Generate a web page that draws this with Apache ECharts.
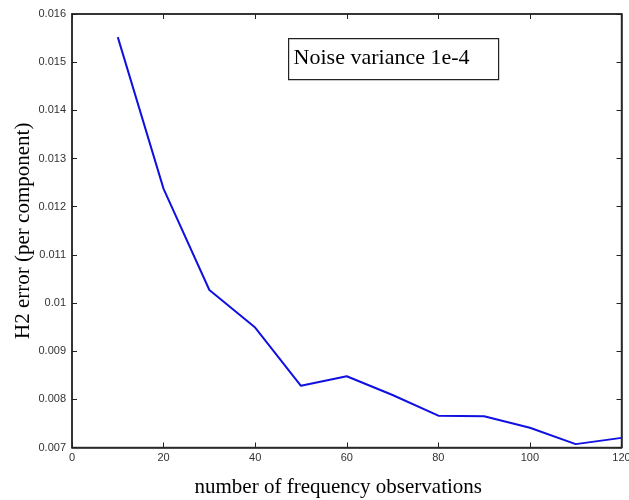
<!DOCTYPE html>
<html><head><meta charset="utf-8">
<script src="https://cdn.jsdelivr.net/npm/echarts@6/dist/echarts.min.js"></script>
<style>html,body{margin:0;padding:0;background:#fff}#c{width:629px;height:500px}</style>
</head><body><div id="c"></div>
<script>
const xValues = [10, 20, 30, 40, 50, 60, 70, 80, 90, 100, 110, 120];
const h2Error = [0.01552, 0.01237, 0.01027, 0.00949, 0.00828, 0.00848, 0.00809, 0.00766, 0.00765, 0.00741, 0.00707, 0.00720];
const annotation = 'Noise variance 1e-4';
const xTitle = 'number of frequency observations';
const yTitle = 'H2 error (per component)';

const chart = echarts.init(document.getElementById('c'));
const tickLabel = {fontFamily: 'Liberation Sans, Arial', fontSize: 11, color: '#333'};
const axisLine = {onZero: false, lineStyle: {color: '#222', width: 1.5}};
const tick = {inside: true, length: 5, lineStyle: {color: '#222', width: 1}};
const grid = {left: 72, right: 7.5, top: 14, bottom: 52.5};
chart.setOption({
  animation: false,
  backgroundColor: '#fff',
  grid: Object.assign({show: true, borderColor: '#444', borderWidth: 1.5, backgroundColor: 'transparent', containLabel: false, outerBoundsMode: 'none'}, grid),
  xAxis: [{
    type: 'value', min: 0, max: 120, interval: 20, position: 'bottom',
    axisLine: axisLine, axisTick: tick,
    axisLabel: Object.assign({margin: 5}, tickLabel), splitLine: {show: false},
    name: xTitle, nameLocation: 'middle', nameGap: 29, nameMoveOverlap: false,
    nameTextStyle: {fontFamily: 'Liberation Serif, Times New Roman', fontSize: 21, color: '#000', padding: [0, 17, 0, 0]}
  }, {
    type: 'value', min: 0, max: 120, interval: 20, position: 'top',
    axisLine: axisLine, axisTick: tick,
    axisLabel: {show: false}, splitLine: {show: false}
  }],
  yAxis: [{
    type: 'value', min: 0.007, max: 0.016, interval: 0.001, position: 'left',
    axisLine: axisLine, axisTick: tick,
    axisLabel: Object.assign({margin: 6}, tickLabel), splitLine: {show: false},
    name: yTitle, nameLocation: 'middle', nameGap: 38, nameMoveOverlap: false,
    nameTextStyle: {fontFamily: 'Liberation Serif, Times New Roman', fontSize: 21, color: '#000'}
  }, {
    type: 'value', min: 0.007, max: 0.016, interval: 0.001, position: 'right',
    axisLine: axisLine, axisTick: tick,
    axisLabel: {show: false}, splitLine: {show: false}
  }],
  graphic: [{
    type: 'group', left: 288, top: 38,
    children: [{
      type: 'rect', shape: {x: 0, y: 0, width: 210, height: 41},
      style: {fill: '#fff', stroke: '#222', lineWidth: 1.2}
    }, {
      type: 'text', left: 5, top: 9,
      style: {text: annotation, font: '22px "Liberation Serif", "Times New Roman"', fill: '#000'}
    }]
  }],
  series: [{
    type: 'line', xAxisIndex: 0, yAxisIndex: 0,
    data: xValues.map((x, i) => [x, h2Error[i]]),
    showSymbol: false, symbol: 'none',
    lineStyle: {color: '#1010e0', width: 2}
  }]
});
</script></body></html>
